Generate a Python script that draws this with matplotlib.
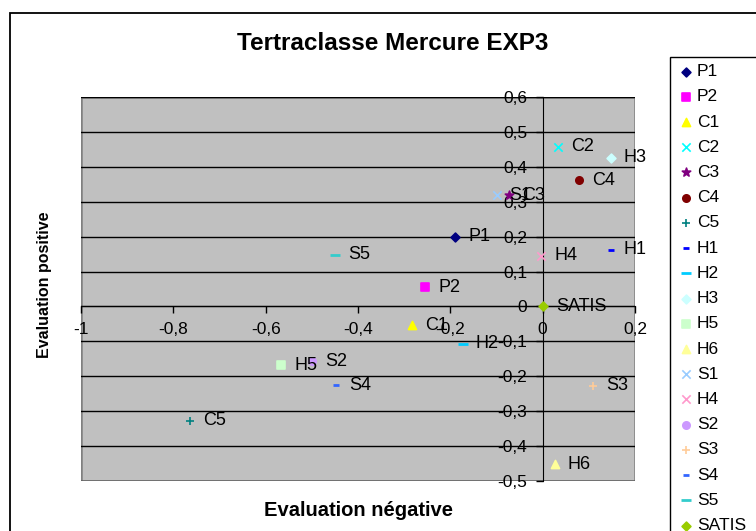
import matplotlib.pyplot as plt
from matplotlib.patches import Rectangle
from matplotlib.ticker import FuncFormatter, MultipleLocator

plt.rcParams['font.family'] = ['Liberation Sans', 'DejaVu Sans']

# Points of the typology (negative evaluation, positive evaluation)
labels = ["P1", "P2", "C1", "C2", "C3", "C4", "C5", "H1", "H2", "H3",
          "H5", "H6", "S1", "H4", "S2", "S3", "S4", "S5", "SATIS"]
neg_eval = [-0.19, -0.255, -0.283, 0.033, -0.072, 0.079, -0.764, 0.147, -0.173, 0.147,
            -0.566, 0.026, -0.10, -0.003, -0.499, 0.109, -0.447, -0.45, 0.0]
pos_eval = [0.20, 0.055, -0.054, 0.457, 0.318, 0.361, -0.327, 0.162, -0.107, 0.426,
            -0.169, -0.452, 0.318, 0.145, -0.157, -0.227, -0.226, 0.148, 0.0]

# marker, colour, size per series
styles = {
    "P1": ("D", "#000080", 20), "P2": ("s", "#FF00FF", 28), "C1": ("^", "#FFFF00", 34),
    "C2": ("x", "#00FFFF", 36), "C3": ("*", "#800080", 40), "C4": ("o", "#800000", 28),
    "C5": ("+", "#008080", 40), "H1": ("_", "#0000FF", 20), "H2": ("_", "#00CCFF", 60),
    "H3": ("D", "#CCFFFF", 20), "H5": ("s", "#CCFFCC", 28), "H6": ("^", "#FFFF99", 34),
    "S1": ("x", "#99CCFF", 36), "H4": ("x", "#FF99CC", 36), "S2": ("o", "#CC99FF", 28),
    "S3": ("+", "#FFCC99", 40), "S4": ("_", "#3366FF", 20), "S5": ("_", "#33CCCC", 60),
    "SATIS": ("D", "#99CC00", 20),
}

W, H = 756, 531
fig = plt.figure(figsize=(W / 100, H / 100), dpi=100)

# outer chart frame and legend frame, both running off the page
fig.patches.append(Rectangle((10 / W, -0.1), 1.0, 1 - 13 / H + 0.1,
                             transform=fig.transFigure, fill=False, ec='black', lw=1.3))
fig.patches.append(Rectangle((670 / W, -0.1), 1.0, 1 - 57 / H + 0.1,
                             transform=fig.transFigure, fill=False, ec='black', lw=1.0))

ax = fig.add_axes([81 / W, 1 - 481 / H, 554 / W, 384 / H])
ax.set_xlim(-1, 0.2)
ax.set_ylim(-0.5, 0.6)
ax.set_facecolor('#C0C0C0')

for name, x, y in zip(labels, neg_eval, pos_eval):
    m, c, s = styles[name]
    lw = 2 if m == "_" else 1.2
    ax.scatter(x, y, marker=m, color=c, s=s, linewidths=lw, zorder=3, label=name)
    ax.annotate(name, (x, y), xytext=(9.5, 0), textcoords='offset points',
                ha='left', va='center', fontsize=13, zorder=4)

# axes crossing at the origin, grey border round the plot area
ax.spines['top'].set_visible(False)
ax.spines['right'].set_visible(False)
ax.spines['left'].set_position(('data', 0))
ax.spines['bottom'].set_position(('data', 0))
ax.add_patch(Rectangle((0, 0), 1, 1, transform=ax.transAxes, fill=False,
                       ec='#808080', lw=1.8, zorder=1))

ax.xaxis.set_major_locator(MultipleLocator(0.2))
ax.yaxis.set_major_locator(MultipleLocator(0.1))
comma = FuncFormatter(lambda v, _: ('%g' % round(v, 2)).replace('.', ','))
ax.xaxis.set_major_formatter(comma)
ax.yaxis.set_major_formatter(comma)
ax.tick_params(direction='out', length=5, labelsize=12.5, width=1, pad=6)
ax.yaxis.grid(True, color='black', lw=1)
ax.set_axisbelow(False)

fig.text(393 / W, 1 - 44 / H, "Tertraclasse Mercure EXP3", ha='center', va='center',
         fontsize=17.5, fontweight='bold')
fig.text(358 / W, 1 - 510 / H, "Evaluation négative", ha='center', va='center',
         fontsize=14.5, fontweight='bold')
fig.text(45 / W, 1 - 285 / H, "Evaluation positive", ha='center', va='center',
         fontsize=11.5, fontweight='bold', rotation=90)

leg = ax.legend(loc='upper left', bbox_to_anchor=(670 / W, 1 - 57 / H),
                bbox_transform=fig.transFigure, borderaxespad=0, frameon=False,
                fontsize=12.5, labelspacing=0.58, handletextpad=0.15,
                handlelength=1.0, borderpad=0.4)

fig.savefig("out.png", dpi=100)
